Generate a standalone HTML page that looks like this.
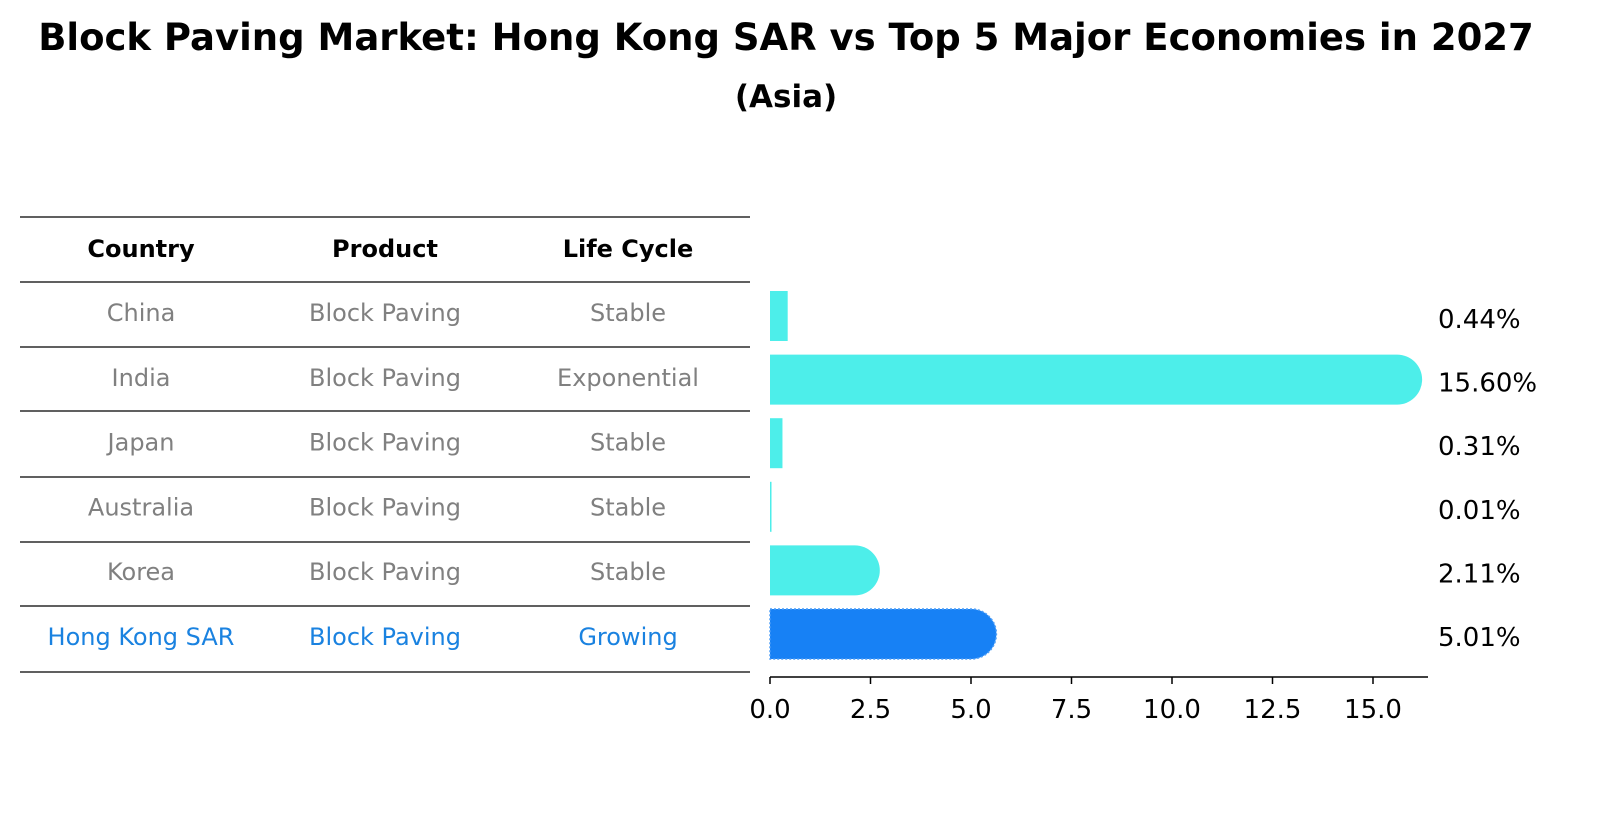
<!DOCTYPE html>
<html><head><meta charset="utf-8"><style>
body{margin:0;background:#fff;font-family:"Liberation Sans","DejaVu Sans",sans-serif;}
</style></head><body>
<svg width="1612" height="823" viewBox="0 0 1612 823" xmlns="http://www.w3.org/2000/svg" font-family="DejaVu Sans, Liberation Sans, sans-serif">
<text x="786" y="50" text-anchor="middle" font-size="37" font-weight="bold">Block Paving Market: Hong Kong SAR vs Top 5 Major Economies in 2027</text>
<text x="786" y="107" text-anchor="middle" font-size="31" font-weight="bold">(Asia)</text>
<g id="table"></g>
<g id="bars"></g>
<g id="axis"></g>
</svg>
<script>
const countries=["China","India","Japan","Australia","Korea","Hong Kong SAR"];
const products=["Block Paving","Block Paving","Block Paving","Block Paving","Block Paving","Block Paving"];
const lifecycles=["Stable","Exponential","Stable","Stable","Stable","Growing"];
const values=[0.44,15.60,0.31,0.01,2.11,5.01];
const labels=["0.44%","15.60%","0.31%","0.01%","2.11%","5.01%"];
const ticks=[0,2.5,5,7.5,10,12.5,15];
const NS="http://www.w3.org/2000/svg";
function mk(tag,attrs,parent){const e=document.createElementNS(NS,tag);for(const k in attrs)e.setAttribute(k,attrs[k]);parent.appendChild(e);return e;}
const x0=770,scale=603/15;
const xs=v=>x0+v*scale;
const rowY=i=>316+i*63.6;
const tbl=document.getElementById('table');
const lineYs=[217,282,347,411,477,542,606,672];
lineYs.forEach(y=>{const l=mk('line',{x1:20,x2:750,y1:y,y2:y,stroke:'#000','stroke-width':1.2},tbl);

});
const colX=[141,385,628];
["Country","Product","Life Cycle"].forEach((h,j)=>{const t=mk('text',{x:colX[j],y:257,'text-anchor':'middle','font-size':24,'font-weight':'bold'},tbl);t.textContent=h;

});
countries.forEach((c,i)=>{const y=321+i*64.8;const col=i===5?'#1a82e0':'#808080';
[c,products[i],lifecycles[i]].forEach((s,j)=>{const t=mk('text',{x:colX[j],y:y,'text-anchor':'middle','font-size':24,fill:col},tbl);t.textContent=s;

});});
const bars=document.getElementById('bars');
const h=50,r=25;
values.forEach((v,i)=>{const cy=rowY(i);const w=xs(v)-x0;const fill=i===5?'#1781f5':'#4deeea';
let b;
if(v>1){const xe=x0+w;const d=`M${x0},${cy-h/2} H${xe} A${r},${r} 0 0 1 ${xe},${cy+h/2} H${x0} Z`;
b=mk('path',{d:d,fill:fill},bars);
if(i===5){b.setAttribute('stroke','#4d9ef7');b.setAttribute('stroke-dasharray','2,2');b.setAttribute('stroke-width','1.5');}}
else{b=mk('rect',{x:x0,y:cy-h/2,width:Math.max(w,1.5),height:h,fill:fill},bars);}


const t=mk('text',{x:1438,y:cy+12,'font-size':26},bars);t.textContent=labels[i];

});
const ax=document.getElementById('axis');
const al=mk('line',{x1:x0,x2:1428,y1:677,y2:677,stroke:'#000','stroke-width':1.5},ax);


ticks.forEach(v=>{const tk=mk('line',{x1:xs(v),x2:xs(v),y1:677,y2:684,stroke:'#000','stroke-width':1.5},ax);


const t=mk('text',{x:xs(v),y:718,'text-anchor':'middle','font-size':26},ax);t.textContent=v.toFixed(1);

});
</script>
</body></html>
